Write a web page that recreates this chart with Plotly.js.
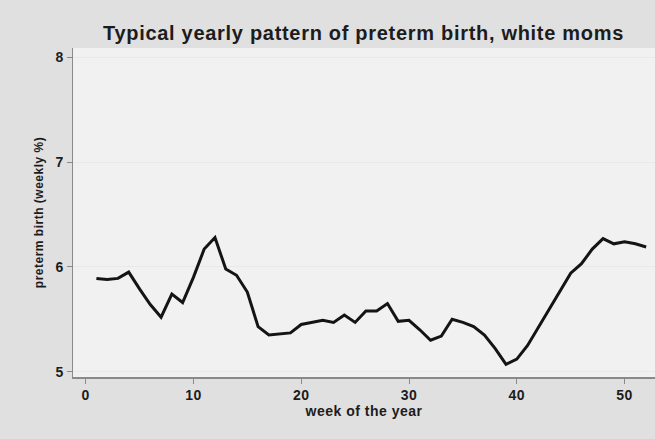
<!DOCTYPE html>
<html>
<head>
<meta charset="utf-8">
<script src="https://cdn.plot.ly/plotly-3.0.1.min.js"></script>
<style>html,body{margin:0;padding:0;background:#e2e2e2;}#chart{width:655px;height:439px;}#chart text{letter-spacing:0.5px;}#chart text.gtitle{letter-spacing:0.7px;}</style>
</head>
<body>
<div id="chart"></div>
<script>
const weeks = [1,2,3,4,5,6,7,8,9,10,11,12,13,14,15,16,17,18,19,20,21,22,23,24,25,26,27,28,29,30,31,32,33,34,35,36,37,38,39,40,41,42,43,44,45,46,47,48,49,50,51,52];
const pretermPct = [5.89,5.88,5.89,5.95,5.79,5.64,5.52,5.74,5.66,5.90,6.17,6.28,5.98,5.92,5.76,5.43,5.35,5.36,5.37,5.45,5.47,5.49,5.47,5.54,5.47,5.58,5.58,5.65,5.48,5.49,5.40,5.30,5.34,5.50,5.47,5.43,5.35,5.22,5.07,5.12,5.25,5.42,5.59,5.77,5.94,6.03,6.17,6.27,6.22,6.24,6.22,6.19];
const xTicks = [0,10,20,30,40,50];
const yTicks = [5,6,7,8];

const fam = '"Liberation Sans", Arial, sans-serif';
const ink = '#1c1c1c';

Plotly.newPlot('chart', [{
  x: weeks, y: pretermPct, type:'scatter', mode:'lines',
  line:{color:'#141414', width:3}
}], {
  width:655, height:439,
  margin:{l:73, r:0, t:48, b:62},
  paper_bgcolor:'#e0e0e0',
  plot_bgcolor:'#f1f1f1',
  showlegend:false,
  font:{family:fam, color:ink},
  title:{text:'Typical yearly pattern of preterm birth, white moms', x:0.555, xanchor:'center', y:0.925, yanchor:'middle',
         font:{family:fam, size:20, weight:'bold', color:ink}},
  xaxis:{range:[-1.17,52.82], tickvals:xTicks, ticktext:xTicks.map(String),
         showline:true, linecolor:'#8a8a8a', linewidth:1.5, ticks:'outside', ticklen:5, tickcolor:'#8a8a8a',
         showgrid:false, zeroline:false, tickfont:{family:fam, size:14, weight:'bold', color:ink},
         title:{text:'week of the year', font:{family:fam, size:14, weight:'bold', color:ink}, standoff:0}},
  yaxis:{range:[4.949,8.089], tickvals:yTicks, ticktext:yTicks.map(String),
         showline:true, linecolor:'#8a8a8a', linewidth:1.5, ticks:'outside', ticklen:5, tickcolor:'#8a8a8a',
         showgrid:true, gridcolor:'#e9e9e9', zeroline:false, tickfont:{family:fam, size:14, weight:'bold', color:ink},
         title:{text:'preterm birth (weekly %)', font:{family:fam, size:12, weight:'bold', color:ink}, standoff:9}}
}, {displayModeBar:false, staticPlot:true});
</script>
</body>
</html>
